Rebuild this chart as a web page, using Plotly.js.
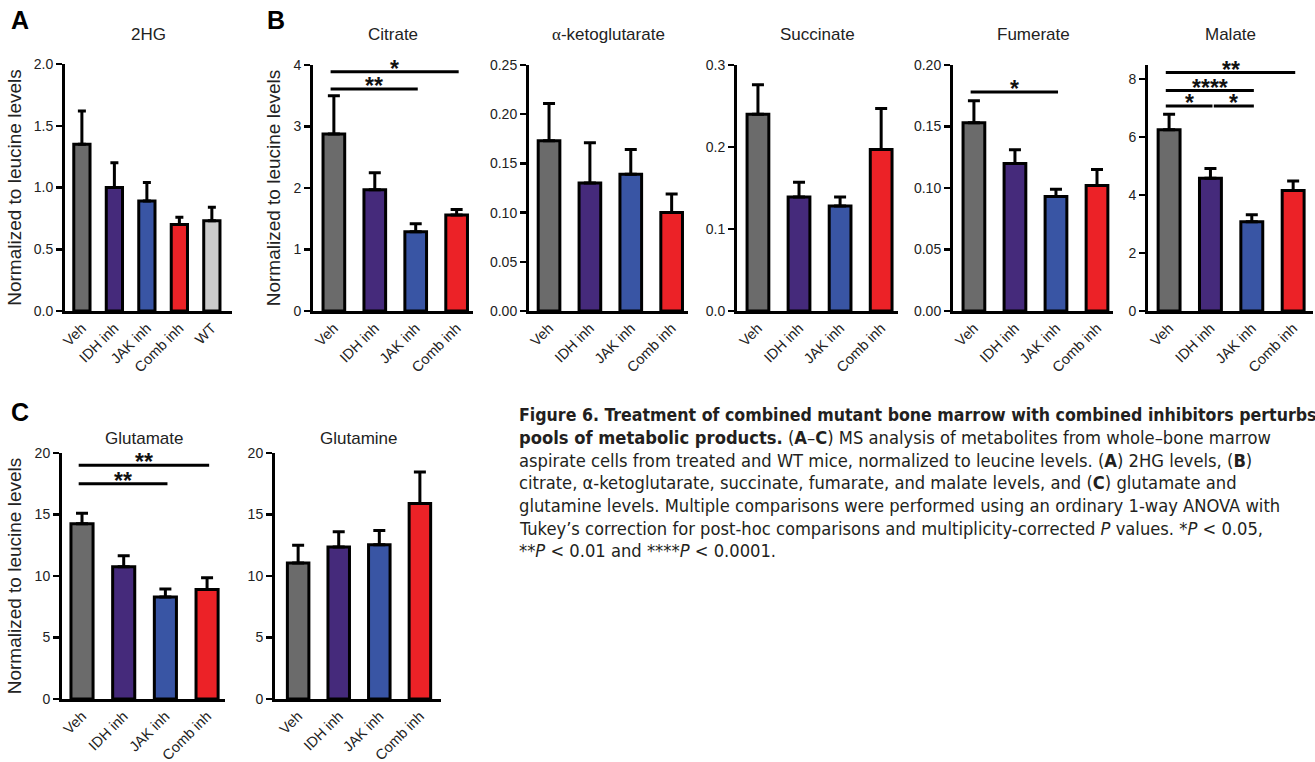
<!DOCTYPE html>
<html><head><meta charset="utf-8">
<script src="https://cdn.plot.ly/plotly-3.0.1.min.js"></script>
<style>html,body{margin:0;padding:0;background:#fff;overflow:hidden}#chart{width:1315px;height:762px}</style>
</head><body><div id="chart"></div>
<script>
// ---------- data ----------
const groups4 = ['Veh', 'IDH inh', 'JAK inh', 'Comb inh'];
const groups5 = ['Veh', 'IDH inh', 'JAK inh', 'Comb inh', 'WT'];
const groupColors = ['#6b6b6b', '#452a7b', '#3955a4', '#ec2227', '#cbcbcb'];

const hg2Mean = [1.35, 1.00, 0.89, 0.70, 0.73];
const hg2Err  = [0.27, 0.20, 0.15, 0.06, 0.11];

const citrateMean = [2.88, 1.97, 1.29, 1.56];
const citrateErr  = [0.62, 0.28, 0.13, 0.09];
const citrateSig  = [[0, 2, 3.61, '**'], [0, 3, 3.89, '*']];

const akgMean = [0.173, 0.130, 0.139, 0.100];
const akgErr  = [0.038, 0.041, 0.025, 0.019];

const succinateMean = [0.240, 0.139, 0.128, 0.197];
const succinateErr  = [0.036, 0.018, 0.011, 0.050];

const fumerateMean = [0.153, 0.120, 0.093, 0.102];
const fumerateErr  = [0.018, 0.011, 0.006, 0.013];
const fumerateSig  = [[0, 2, 0.178, '*']];

const malateMean = [6.25, 4.58, 3.08, 4.15];
const malateErr  = [0.53, 0.33, 0.24, 0.33];
const malateSig  = [[0, 3, 8.22, '**'], [0, 2, 7.60, '****'], [0, 1, 7.07, '*'], [1, 2, 7.07, '*']];

const glutamateMean = [14.25, 10.75, 8.3, 8.9];
const glutamateErr  = [0.85, 0.90, 0.65, 0.95];
const glutamateSig  = [[0, 2, 17.5, '**'], [0, 3, 19.0, '**']];

const glutamineMean = [11.05, 12.35, 12.55, 15.9];
const glutamineErr  = [1.45, 1.25, 1.15, 2.55];

const yTitle = 'Normalized to leucine levels';

const captionLines = [
  '<b>Figure 6. Treatment of combined mutant bone marrow with combined inhibitors perturbs</b>',
  '<b>pools of metabolic products.</b> (<b>A</b>–<b>C</b>) MS analysis of metabolites from whole–bone marrow',
  'aspirate cells from treated and WT mice, normalized to leucine levels. (<b>A</b>) 2HG levels, (<b>B</b>)',
  'citrate, α-ketoglutarate, succinate, fumarate, and malate levels, and (<b>C</b>) glutamate and',
  'glutamine levels. Multiple comparisons were performed using an ordinary 1-way ANOVA with',
  'Tukey’s correction for post-hoc comparisons and multiplicity-corrected <i>P</i> values. *<i>P</i> &lt; 0.05,',
  '**<i>P</i> &lt; 0.01 and ****<i>P</i> &lt; 0.0001.'
];

// ---------- layout helpers ----------
const W = 1315, H = 762;
const FONT = 'Liberation Sans, Arial, Helvetica, sans-serif';
const panels = [
  {title: '2HG', cats: groups5, mean: hg2Mean, err: hg2Err, sig: [], box: [65, 232, 64, 311], xr: [-0.52, 4.62], yr: [0, 2.0], dtick: 0.5, fmt: '.1f', ytitle: true, cap: 4},
  {title: 'Citrate', cats: groups4, mean: citrateMean, err: citrateErr, sig: citrateSig, box: [313, 473, 65, 311], xr: [-0.51, 3.4], yr: [0, 4], dtick: 1, fmt: 'd', ytitle: true, cap: 6},
  {title: '<span style="font-family:Liberation Serif, Times New Roman, serif">α</span>-ketoglutarate', cats: groups4, mean: akgMean, err: akgErr, sig: [], box: [529, 688, 65, 311], xr: [-0.49, 3.4], yr: [0, 0.25], dtick: 0.05, fmt: '.2f', ytitle: false, cap: 6},
  {title: 'Succinate', cats: groups4, mean: succinateMean, err: succinateErr, sig: [], box: [737, 898, 65, 311], xr: [-0.51, 3.41], yr: [0, 0.3], dtick: 0.1, fmt: '.1f', ytitle: false, cap: 6},
  {title: 'Fumerate', cats: groups4, mean: fumerateMean, err: fumerateErr, sig: fumerateSig, box: [953, 1113, 65, 311], xr: [-0.51, 3.39], yr: [0, 0.2], dtick: 0.05, fmt: '.2f', ytitle: false, cap: 6},
  {title: 'Malate', cats: groups4, mean: malateMean, err: malateErr, sig: malateSig, box: [1148, 1313, 65, 311], xr: [-0.51, 3.48], yr: [0, 8.48], dtick: 2, fmt: 'd', ytitle: false, cap: 6},
  {title: 'Glutamate', cats: groups4, mean: glutamateMean, err: glutamateErr, sig: glutamateSig, box: [62, 225, 453, 699], xr: [-0.48, 3.43], yr: [0, 20], dtick: 5, fmt: 'd', ytitle: true, cap: 6, titleY: 438},
  {title: 'Glutamine', cats: groups4, mean: glutamineMean, err: glutamineErr, sig: [], box: [275, 441, 453, 699], xr: [-0.57, 3.52], yr: [0, 20], dtick: 5, fmt: 'd', ytitle: false, cap: 6, titleY: 438}
];

const traces = [];
const layout = {
  width: W, height: H,
  margin: {l: 0, r: 0, t: 0, b: 0},
  paper_bgcolor: '#fff', plot_bgcolor: '#fff',
  showlegend: false,
  font: {family: FONT, color: '#222'},
  annotations: [], shapes: []
};

panels.forEach((p, i) => {
  const n = i + 1;
  const xa = 'x' + (n === 1 ? '' : n), ya = 'y' + (n === 1 ? '' : n);
  const xk = 'xaxis' + (n === 1 ? '' : n), yk = 'yaxis' + (n === 1 ? '' : n);
  const [x0, x1, top, bot] = p.box;
  traces.push({
    type: 'bar', x: p.cats, y: p.mean, xaxis: xa, yaxis: ya,
    width: p.cats.length === 5 ? 0.5 : 0.53,
    marker: {color: groupColors.slice(0, p.cats.length), line: {color: '#000', width: 3}},
    error_y: {type: 'data', symmetric: false, array: p.err, arrayminus: p.err.map(() => 0),
              color: '#000', thickness: 3, width: p.cap},
    hoverinfo: 'skip'
  });
  layout[xk] = {
    domain: [x0 / W, x1 / W], anchor: ya, type: 'category', range: p.xr,
    showline: true, linecolor: '#000', linewidth: 3, ticks: '', showgrid: false, zeroline: false,
    tickangle: -45, tickfont: {family: FONT, size: 14.5, color: '#222'}, fixedrange: true
  };
  layout[yk] = {
    domain: [1 - bot / H, 1 - top / H], anchor: xa, range: p.yr, dtick: p.dtick, tick0: 0,
    tickformat: p.fmt, showline: true, linecolor: '#000', linewidth: 3,
    ticks: 'outside', ticklen: 6, tickwidth: 2.5, tickcolor: '#000',
    showgrid: false, zeroline: false, tickfont: {family: FONT, size: 14, color: '#222'}, fixedrange: true,
    title: p.ytitle ? {text: yTitle, font: {family: FONT, size: 19, color: '#222'}, standoff: 8} : {text: ''}
  };
  layout.annotations.push({
    xref: 'paper', yref: 'paper', x: (x0 + x1) / 2 / W, y: 1 - (p.titleY || 35) / H,
    xanchor: 'center', yanchor: 'middle', showarrow: false, text: p.title,
    font: {family: FONT, size: 17, color: '#222'}
  });
  p.sig.forEach(([a, b, yv, lab]) => {
    const sx0 = a === 0 ? a - 0.08 : a + 0.08;
    const sx1 = b + 0.05;
    layout.shapes.push({type: 'line', xref: xa, yref: ya, x0: sx0, x1: sx1, y0: yv, y1: yv,
                        line: {color: '#000', width: 3}});
    layout.annotations.push({xref: xa, yref: ya, x: (sx0 + sx1) / 2, y: yv, yshift: 3,
      xanchor: 'center', yanchor: 'middle', showarrow: false, text: '<b>' + lab + '</b>',
      font: {family: FONT, size: 23, color: '#111'}});
  });
});

// panel letters
[['A', 20, 20], ['B', 276, 20], ['C', 20, 412]].forEach(([t, x, y]) => {
  layout.annotations.push({xref: 'paper', yref: 'paper', x: x / W, y: 1 - y / H,
    xanchor: 'center', yanchor: 'middle', showarrow: false, text: '<b>' + t + '</b>',
    font: {family: FONT, size: 25, color: '#000'}});
});

// caption
captionLines.forEach((t, k) => {
  layout.annotations.push({xref: 'paper', yref: 'paper', x: 517 / W, y: 1 - (415 + k * 22.6) / H,
    xanchor: 'left', yanchor: 'middle', showarrow: false, text: t, align: 'left',
    font: {family: 'DejaVu Sans Condensed, sans-serif', size: k === 0 ? 17.6 : 18.2, color: '#231f20'}});
});

Plotly.newPlot('chart', traces, layout, {staticPlot: true, displayModeBar: false});
</script>
</body></html>
